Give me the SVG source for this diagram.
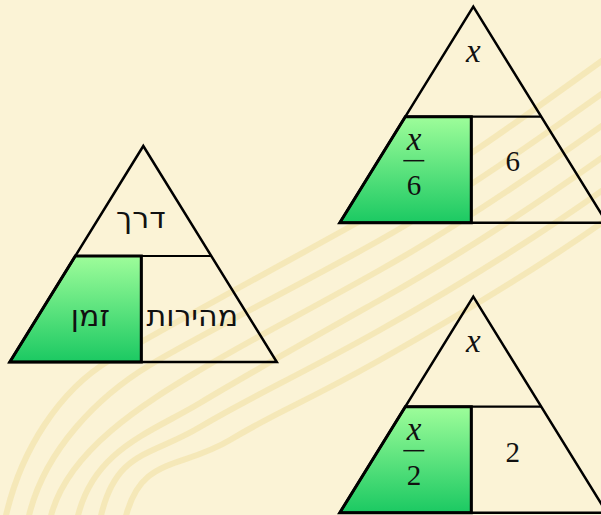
<svg xmlns="http://www.w3.org/2000/svg" width="601" height="515" viewBox="0 0 601 515">
  <style>
    .stripe { fill: none; stroke: #F1E1A4; stroke-width: 6; stroke-linecap: round; opacity: 0.6; }
    .outline { fill: none; stroke: #000; stroke-width: 2.5; stroke-linejoin: miter; }
    .div { fill: none; stroke: #000; stroke-width: 2.2; }
    .green { fill: url(#gg); stroke: #000; stroke-width: 3; stroke-linejoin: miter; }
    .heb { font-family: "DejaVu Sans", "Liberation Sans", sans-serif; font-size: 30px; fill: #111; text-anchor: middle; }
    .var { font-family: "Liberation Serif", "Times New Roman", serif; font-style: italic; font-size: 33px; fill: #111; text-anchor: middle; }
    .num { font-family: "Liberation Serif", "Times New Roman", serif; font-size: 29px; fill: #111; text-anchor: middle; }
    .bar { stroke: #111; stroke-width: 1.5; }
  </style>
  <defs>
    <linearGradient id="gg" x1="0" y1="0" x2="0" y2="1">
      <stop offset="0" stop-color="#9EFD9A"/>
      <stop offset="1" stop-color="#1BC962"/>
    </linearGradient>
    <g id="tri">
      <polygon class="green" points="-68,110 -2,110 -2,216 -133.5,216"/>
      <polygon class="outline" points="0,0 133.5,216 -133.5,216"/>
      <line class="div" x1="-68" y1="110" x2="68" y2="110"/>
      <line class="div" x1="-2" y1="110" x2="-2" y2="216"/>
    </g>
  </defs>

  <rect x="0" y="0" width="601" height="515" fill="#FBF3D6"/>

  <g id="background">
    <path class="stripe" d="M5,520 C20,450 60,390 110,360 S300,255 380,210 S540,105 610,55"/>
    <path class="stripe" d="M28,520 C43,450 100,395 150,365 S300,285 380,240 S540,138 610,88"/>
    <path class="stripe" d="M50,520 C65,450 150,400 200,370 S300,315 380,270 S540,170 610,120"/>
    <path class="stripe" d="M77,520 C92,450 150,433 200,403 S300,345 380,300 S540,202 610,152"/>
    <path class="stripe" d="M100,520 C115,450 150,457 200,427 S300,375 380,330 S540,235 610,185"/>
    <path class="stripe" d="M125,520 C140,455 180,470 230,440 S300,405 380,360 S540,267 610,217"/>
  </g>

  <g id="connectors"></g>

  <g id="triangle-words" transform="translate(143.3,146)">
    <use href="#tri"/>
    <text class="heb" x="-2.5" y="82">דרך</text>
    <text class="heb" x="-53" y="180">זמן</text>
    <text class="heb" x="49" y="180">מהירות</text>
  </g>

  <g id="triangle-six" transform="translate(473.3,6.7)">
    <use href="#tri"/>
    <text class="var" x="0" y="55">x</text>
    <text class="var" x="-59.3" y="143.3">x</text>
    <line class="bar" x1="-70" y1="154" x2="-49" y2="154"/>
    <text class="num" x="-59.3" y="188.5">6</text>
    <text class="num" x="39.4" y="164.5">6</text>
  </g>

  <g id="triangle-two" transform="translate(473.3,296.7)">
    <use href="#tri"/>
    <text class="var" x="0" y="55">x</text>
    <text class="var" x="-59.3" y="143.3">x</text>
    <line class="bar" x1="-70" y1="154" x2="-49" y2="154"/>
    <text class="num" x="-59.3" y="188">2</text>
    <text class="num" x="39.4" y="165.5">2</text>
  </g>
</svg>
